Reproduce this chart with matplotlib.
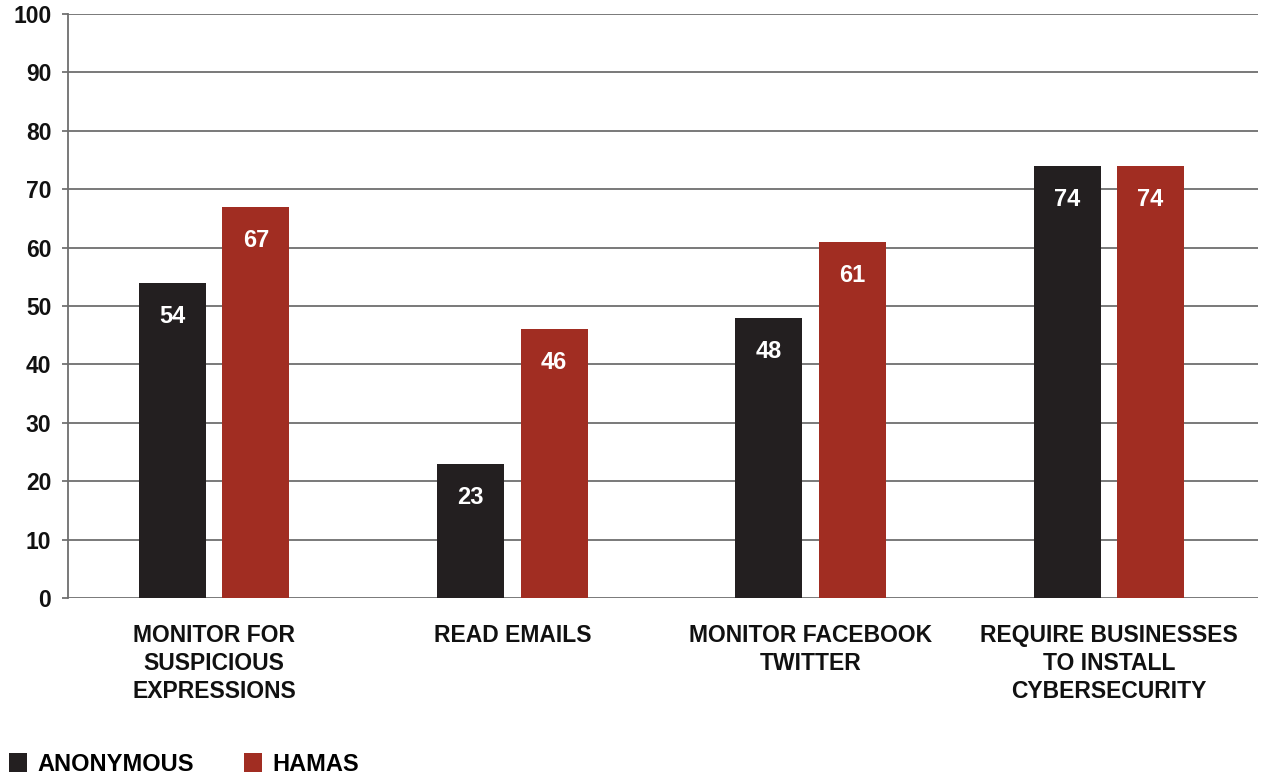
import matplotlib.pyplot as plt
import numpy as np

plt.rcParams['font.family'] = ['Liberation Sans', 'DejaVu Sans']
plt.rcParams['font.weight'] = 'bold'

categories = ['MONITOR FOR\nSUSPICIOUS\nEXPRESSIONS', 'READ EMAILS',
              'MONITOR FACEBOOK\nTWITTER', 'REQUIRE BUSINESSES\nTO INSTALL\nCYBERSECURITY']
anonymous = [54, 23, 48, 74]
hamas = [67, 46, 61, 74]
series_names = ['ANONYMOUS', 'HAMAS']
yticks = list(range(0, 101, 10))

c_black = '#231f20'
c_red = '#a12d22'

fig = plt.figure(figsize=(12.62, 7.82), dpi=100)
ax = fig.add_axes([0.0539, 0.2353, 0.9429, 0.7467])

x = np.arange(len(categories))
w = 0.225
off = 0.14
b1 = ax.bar(x - off, anonymous, w, color=c_black, zorder=3, label=series_names[0])
b2 = ax.bar(x + off, hamas, w, color=c_red, zorder=3, label=series_names[1])

for bars in (b1, b2):
    for r in bars:
        h = r.get_height()
        ax.annotate('%d' % h, (r.get_x() + r.get_width() / 2, h),
                    xytext=(0, -24), textcoords='offset points',
                    ha='center', va='center', color='white',
                    fontsize=17, fontweight='bold', zorder=4)

ax.set_xlim(-0.49, 3.5)
ax.set_ylim(0, 100)
ax.set_yticks(yticks)
ax.set_yticklabels([str(v) for v in yticks], fontsize=16.5, fontweight='bold', color='#111111')
ax.set_xticks(x)
ax.set_xticklabels(categories, fontsize=16.5, fontweight='bold', color='#111111',
                   linespacing=1.28, va='top')
ax.tick_params(axis='x', length=0, pad=19)
ax.tick_params(axis='y', length=4, width=1.2, color='#666666', pad=8)

ax.grid(axis='y', color='#6e6e6e', linewidth=1.3, zorder=1)
for s in ['top', 'right', 'bottom']:
    ax.spines[s].set_visible(False)
ax.spines['left'].set_color('#6e6e6e')
ax.spines['left'].set_linewidth(1.3)

fig.legend(handles=[b1, b2], labels=series_names, loc='lower left',
           bbox_to_anchor=(0.0, -0.004), ncol=2, frameon=False,
           fontsize=17, handlelength=0.75, handleheight=0.9,
           handletextpad=0.45, columnspacing=2.1, borderaxespad=0.0)

plt.savefig('out.png', dpi=100)
